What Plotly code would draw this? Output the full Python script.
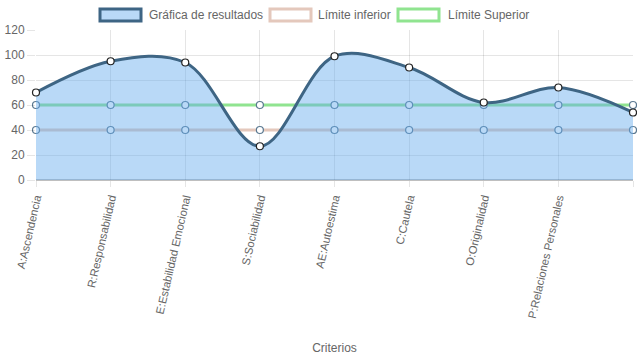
import plotly.graph_objects as go

categories = ["A:Ascendencia", "R:Responsabilidad", "E:Estabilidad Emocional",
              "S:Sociabilidad", "AE:Autoestima", "C:Cautela", "O:Originalidad",
              "P:Relaciones Personales", "V:Vigor"]
resultados = [70, 95, 94, 27, 99, 90, 62, 74, 54]
limite_inferior = [40, 40, 40, 40, 40, 40, 40, 40, 40]
limite_superior = [60, 60, 60, 60, 60, 60, 60, 60, 60]
series_names = ["Gráfica de resultados", "Límite inferior", "Límite Superior"]

x = list(range(len(categories)))
font = "Liberation Sans, Arial, sans-serif"
grid = "rgba(0,0,0,0.1)"
dark = "#3e6584"
green = "rgb(144,228,144)"
pink = "rgb(228,200,188)"
fillblue = "rgba(100,170,238,0.45)"

fig = go.Figure()
for vals, col in [(limite_superior, green), (limite_inferior, pink)]:
    fig.add_trace(go.Scatter(
        x=x, y=vals, mode="lines+markers", showlegend=False,
        line=dict(color=col, width=3),
        marker=dict(size=7, color="white", line=dict(color="#5a7890", width=1.2)),
        cliponaxis=False))

fig.add_trace(go.Scatter(
    x=x, y=resultados, mode="lines", showlegend=False,
    line=dict(color=dark, width=3, shape="spline", smoothing=1.0),
    fill="tozeroy", fillcolor=fillblue, cliponaxis=False))
fig.add_trace(go.Scatter(
    x=x, y=resultados, mode="markers", showlegend=False,
    marker=dict(size=7, color="white", line=dict(color="#222", width=1.2)),
    cliponaxis=False))

# chart.js-style legend drawn as shapes + text (paper coords of plot area)
L, W, T, H = 36, 597, 30, 150
def px(v):
    return (v - L) / W
def py(v):
    return (T + H - v) / H
legend_items = [(series_names[0], fillblue, dark, 100, 147),
                (series_names[1], "rgba(0,0,0,0)", pink, 270, 316),
                (series_names[2], "rgba(0,0,0,0)", green, 398, 446)]
for name, fc, lc, bx, tx in legend_items:
    fig.add_shape(type="rect", xref="paper", yref="paper",
                  x0=px(bx), x1=px(bx + 41), y0=py(21), y1=py(9),
                  fillcolor=fc, line=dict(color=lc, width=3))
    fig.add_annotation(text=name, xref="paper", yref="paper",
                       x=px(tx), y=py(15), xanchor="left", yanchor="middle",
                       showarrow=False, font=dict(size=12, color="#666"))

fig.update_layout(
    width=637, height=359,
    margin=dict(l=36, r=4, t=30, b=179, autoexpand=False),
    paper_bgcolor="white", plot_bgcolor="white",
    font=dict(family=font, size=12, color="#666"),
    showlegend=False,
    xaxis=dict(
        range=[0, 8], tickmode="array", tickvals=x, ticktext=categories,
        tickangle=-77, showgrid=True, gridcolor=grid, zeroline=False,
        ticks="outside", ticklen=6, tickcolor=grid, automargin=False,
        title=dict(text="Criterios", font=dict(size=12, color="#666"), standoff=24),
        tickfont=dict(size=11.3, color="#666")),
    yaxis=dict(
        range=[0, 120], dtick=20, showgrid=True, gridcolor=grid,
        zeroline=True, zerolinecolor="rgba(0,0,0,0.25)", zerolinewidth=2,
        ticks="outside", ticklen=8, tickcolor=grid, automargin=False,
        tickfont=dict(size=12, color="#666")),
)

fig.write_html("out.html", config={"displayModeBar": False},
               post_script="document.body.style.margin='0';")
